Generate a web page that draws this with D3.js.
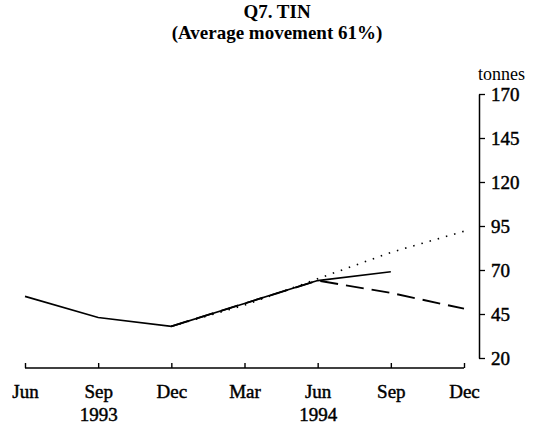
<!DOCTYPE html>
<html>
<head>
<meta charset="utf-8">
<script src="https://cdn.jsdelivr.net/npm/d3@7"></script>
<style>
  html, body { margin: 0; padding: 0; background: #fff; }
  svg { display: block; }
  text { font-family: "Liberation Serif", "Times New Roman", serif; fill: #000; }
  .lbl { stroke: #000; stroke-width: 0.45px; }
</style>
</head>
<body>
<svg id="chart" width="552" height="426"></svg>
<script>
// Quarter labels along the time axis
const quarters = ["Jun 1993", "Sep 1993", "Dec 1993", "Mar 1994", "Jun 1994", "Sep 1994", "Dec 1994"];
const monthLabels = ["Jun", "Sep", "Dec", "Mar", "Jun", "Sep", "Dec"];
const yearLabels = [null, "1993", null, null, "1994", null, null];

// Tin stocks, tonnes
const actual = [55, 43, 38, 51, 64, 69, null];
const forecastDashed = [null, null, 38, 51, 64, 57, 48];
const forecastDotted = [null, null, 38, 50, 65, 80, 92];

const yTicks = [20, 45, 70, 95, 120, 145, 170];

const svg = d3.select("#chart");

const x = d3.scalePoint().domain(quarters).range([25, 464]);
const y = d3.scaleLinear().domain([20, 170]).range([358, 94]);

// Title
svg.append("text").attr("x", 277).attr("y", 18).attr("text-anchor", "middle")
  .style("font-size", "19px").style("font-weight", "bold").text("Q7. TIN");
svg.append("text").attr("x", 277).attr("y", 39).attr("text-anchor", "middle")
  .style("font-size", "19px").style("font-weight", "bold").text("(Average movement 61%)");

// Horizontal axis: ticks pointing up
const xAxis = svg.append("g").attr("transform", "translate(0,368)")
  .call(d3.axisBottom(x).tickSize(-5).tickSizeOuter(0).tickFormat(""));
xAxis.attr("font-family", null);
xAxis.select(".domain").attr("stroke", "#000").attr("stroke-width", 1.6)
  .attr("d", `M${x(quarters[0])},0H${x(quarters[quarters.length - 1])}`);
xAxis.selectAll(".tick line").attr("stroke", "#000").attr("stroke-width", 1.4);

xAxis.selectAll(".tick").append("text")
  .attr("class", "lbl")
  .attr("y", 30).attr("text-anchor", "middle")
  .style("font-size", "19px")
  .text((d, i) => monthLabels[i]);
xAxis.selectAll(".tick").append("text")
  .attr("class", "lbl")
  .attr("y", 53).attr("text-anchor", "middle")
  .style("font-size", "19px")
  .text((d, i) => yearLabels[i] || "");

// Vertical axis on the right, ticks pointing toward labels
const yAxis = svg.append("g").attr("transform", "translate(479,0)")
  .call(d3.axisRight(y).tickValues(yTicks).tickSize(6).tickSizeOuter(0).tickPadding(6));
yAxis.attr("font-family", null);
yAxis.select(".domain").attr("stroke", "#000").attr("stroke-width", 1.5);
yAxis.selectAll(".tick line").attr("stroke", "#000").attr("stroke-width", 1.3);
yAxis.selectAll(".tick text").attr("class", "lbl").style("font-size", "19px")
  .attr("dy", "0.35em");

svg.append("text").attr("x", 478).attr("y", 80)
  .style("font-size", "18px").text("tonnes");

// Series lines
const line = d3.line()
  .defined(d => d.v !== null)
  .x(d => x(d.q))
  .y(d => y(d.v));

const toPts = arr => quarters.map((q, i) => ({ q, v: arr[i] }));

svg.append("path").datum(toPts(forecastDotted))
  .attr("fill", "none").attr("stroke", "#000").attr("stroke-width", 1.6)
  .attr("stroke-dasharray", "1.5,7").attr("d", line);

svg.append("path").datum(toPts(forecastDashed))
  .attr("fill", "none").attr("stroke", "#000").attr("stroke-width", 1.8)
  .attr("stroke-dasharray", "18,8").attr("d", line);

svg.append("path").datum(toPts(actual))
  .attr("fill", "none").attr("stroke", "#000").attr("stroke-width", 1.7)
  .attr("d", line);
</script>
</body>
</html>
